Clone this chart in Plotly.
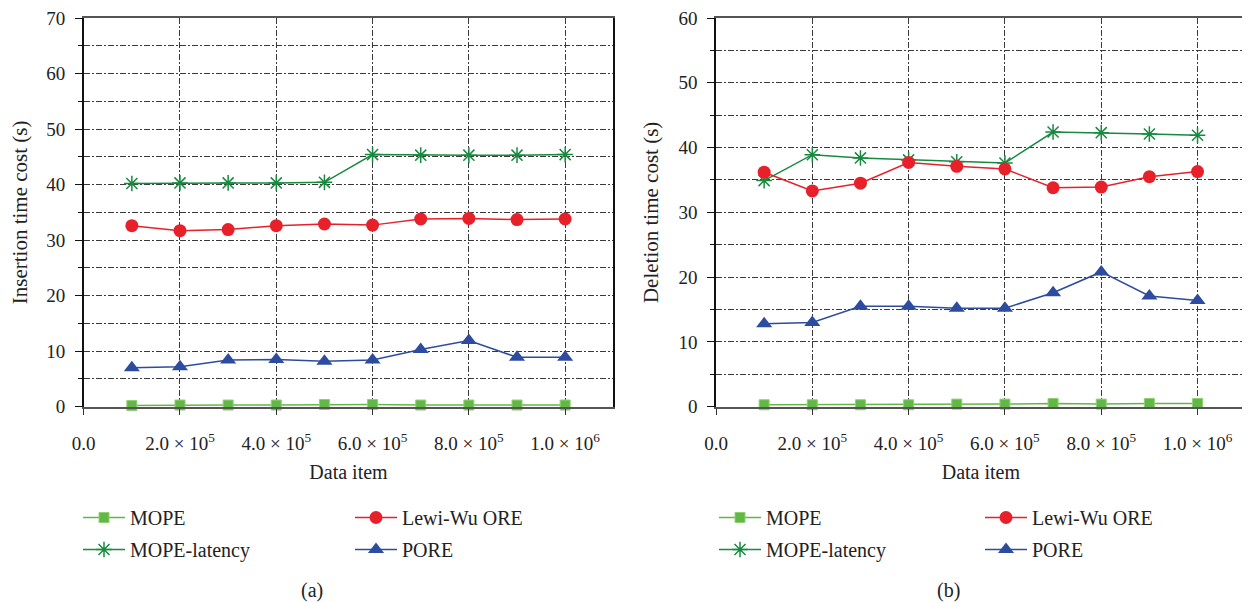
import plotly.graph_objects as go

# ---- data ----
data_items = [100000, 200000, 300000, 400000, 500000, 600000, 700000, 800000, 900000, 1000000]

ins_mope = [0.2, 0.3, 0.3, 0.3, 0.4, 0.4, 0.3, 0.3, 0.3, 0.3]
ins_lewiwu = [32.6, 31.7, 31.9, 32.6, 32.9, 32.7, 33.8, 33.9, 33.7, 33.8]
ins_mope_latency = [40.2, 40.3, 40.3, 40.3, 40.4, 45.4, 45.3, 45.3, 45.3, 45.4]
ins_pore = [7.0, 7.2, 8.4, 8.5, 8.2, 8.4, 10.3, 11.9, 8.9, 8.9]

del_mope = [0.3, 0.3, 0.3, 0.3, 0.4, 0.4, 0.5, 0.4, 0.5, 0.5]
del_lewiwu = [36.2, 33.3, 34.5, 37.7, 37.1, 36.7, 33.8, 33.9, 35.5, 36.3]
del_mope_latency = [34.9, 38.9, 38.4, 38.1, 37.8, 37.6, 42.4, 42.3, 42.1, 41.9]
del_pore = [12.8, 13.0, 15.5, 15.5, 15.2, 15.2, 17.6, 20.8, 17.1, 16.4]

x_tickvals = [0, 200000, 400000, 600000, 800000, 1000000]
x_ticktext = ["0.0", "2.0 × 10<sup>5</sup>", "4.0 × 10<sup>5</sup>", "6.0 × 10<sup>5</sup>",
              "8.0 × 10<sup>5</sup>", "1.0 × 10<sup>6</sup>"]

FONT = "Liberation Serif"
TXT = "#222222"
OFF = 8  # page body margin
W, H = 1250 - OFF, 603 - OFF


def px(v):
    return (v - OFF) / W


def py(v):
    return 1 - (v - OFF) / H


C_MOPE = "#62b846"
C_LAT = "#188a3f"
C_RED = "#e8202a"
C_BLUE = "#2d4c9f"
GRID = "#3a3a3a"
GDASH = "6px,2px,2px,2px"

fig = go.Figure()


def add_series(xa, ya, mope, lewi, lat, pore, legs):
    common = dict(x=data_items, mode="lines+markers", xaxis=xa, yaxis=ya, cliponaxis=False)
    fig.add_trace(go.Scatter(y=mope, name="MOPE", legend=legs[0], legendgroup=legs[0] + "a",
                             line=dict(color=C_MOPE, width=1.5),
                             marker=dict(symbol="square", size=10, color=C_MOPE,
                                         line=dict(color="#8fd06f", width=1)), **common))
    fig.add_trace(go.Scatter(y=lat, name="MOPE-latency", legend=legs[0], legendgroup=legs[0] + "b",
                             line=dict(color=C_LAT, width=1.5),
                             marker=dict(symbol="asterisk-open", size=13, color=C_LAT,
                                         line=dict(color=C_LAT, width=1.5)), **common))
    fig.add_trace(go.Scatter(y=lewi, name="Lewi-Wu ORE", legend=legs[1], legendgroup=legs[1] + "a",
                             line=dict(color=C_RED, width=1.5),
                             marker=dict(symbol="circle", size=13, color=C_RED), **common))
    fig.add_trace(go.Scatter(y=pore, name="PORE", legend=legs[1], legendgroup=legs[1] + "b",
                             line=dict(color=C_BLUE, width=1.5),
                             marker=dict(symbol="triangle-up", size=14, color=C_BLUE), **common))


add_series("x", "y", ins_mope, ins_lewiwu, ins_mope_latency, ins_pore, ["legend", "legend2"])
add_series("x2", "y2", del_mope, del_lewiwu, del_mope_latency, del_pore, ["legend3", "legend4"])

ydom = [py(406.7), py(18)]

xcommon = dict(range=[0, 1100000], tickmode="array", tickvals=x_tickvals, ticktext=x_ticktext,
               automargin=False, ticklabeloverflow="allow",
               showgrid=True, gridcolor=GRID, griddash=GDASH, gridwidth=1,
               showline=True, linecolor="#555555", linewidth=2, mirror=True,
               ticks="outside", ticklen=6, tickcolor="#333333", tickwidth=1,
               ticklabelstandoff=12,
               tickfont=dict(family=FONT, size=19, color=TXT),
               zeroline=False,
               title=dict(text="Data item", font=dict(family=FONT, size=20, color=TXT), standoff=12))
ycommon = dict(tickmode="linear", tick0=0, dtick=10, automargin=False, ticklabeloverflow="allow",
               showgrid=True, gridcolor=GRID, griddash=GDASH, gridwidth=1,
               showline=True, linecolor="#111111", linewidth=1.5, mirror=True,
               ticks="outside", ticklen=7, tickcolor="#111111",
               ticklabelstandoff=6,
               minor=dict(dtick=5, showgrid=True, gridcolor=GRID, griddash=GDASH,
                          gridwidth=1, ticks="outside", ticklen=4, tickcolor="#111111"),
               tickfont=dict(family=FONT, size=19, color=TXT),
               zeroline=False, domain=ydom)

fig.update_layout(
    width=W, height=H,
    margin=dict(l=0, r=0, t=0, b=0, autoexpand=False),
    paper_bgcolor="white", plot_bgcolor="white",
    font=dict(family=FONT, size=20, color=TXT),
    xaxis=dict(domain=[px(83.7), px(613.3)], anchor="y", **xcommon),
    yaxis=dict(range=[0, 70], anchor="x",
               title=dict(text="Insertion time cost (s)", font=dict(family=FONT, size=21, color=TXT),
                          standoff=14),
               **ycommon),
    xaxis2=dict(domain=[px(716), min(1.0, px(1245.7))], anchor="y2", **xcommon),
    yaxis2=dict(range=[0, 60], anchor="x2",
                title=dict(text="Deletion time cost (s)", font=dict(family=FONT, size=21, color=TXT),
                           standoff=14),
                **ycommon),
    showlegend=True,
)

leg_common = dict(orientation="v", xanchor="left", yanchor="top", y=py(498),
                  bgcolor="rgba(0,0,0,0)", tracegroupgap=3, itemwidth=42,
                  font=dict(family=FONT, size=20, color=TXT))
fig.update_layout(
    legend=dict(x=px(78), **leg_common),
    legend2=dict(x=px(350), **leg_common),
    legend3=dict(x=px(714), **leg_common),
    legend4=dict(x=px(980), **leg_common),
)

for txt, xp in [("(a)", 312), ("(b)", 948)]:
    fig.add_annotation(text=txt, x=px(xp), y=py(590), xref="paper", yref="paper",
                       xanchor="center", yanchor="middle",
                       showarrow=False, font=dict(family=FONT, size=20, color=TXT))

fig.write_html("out.html")
